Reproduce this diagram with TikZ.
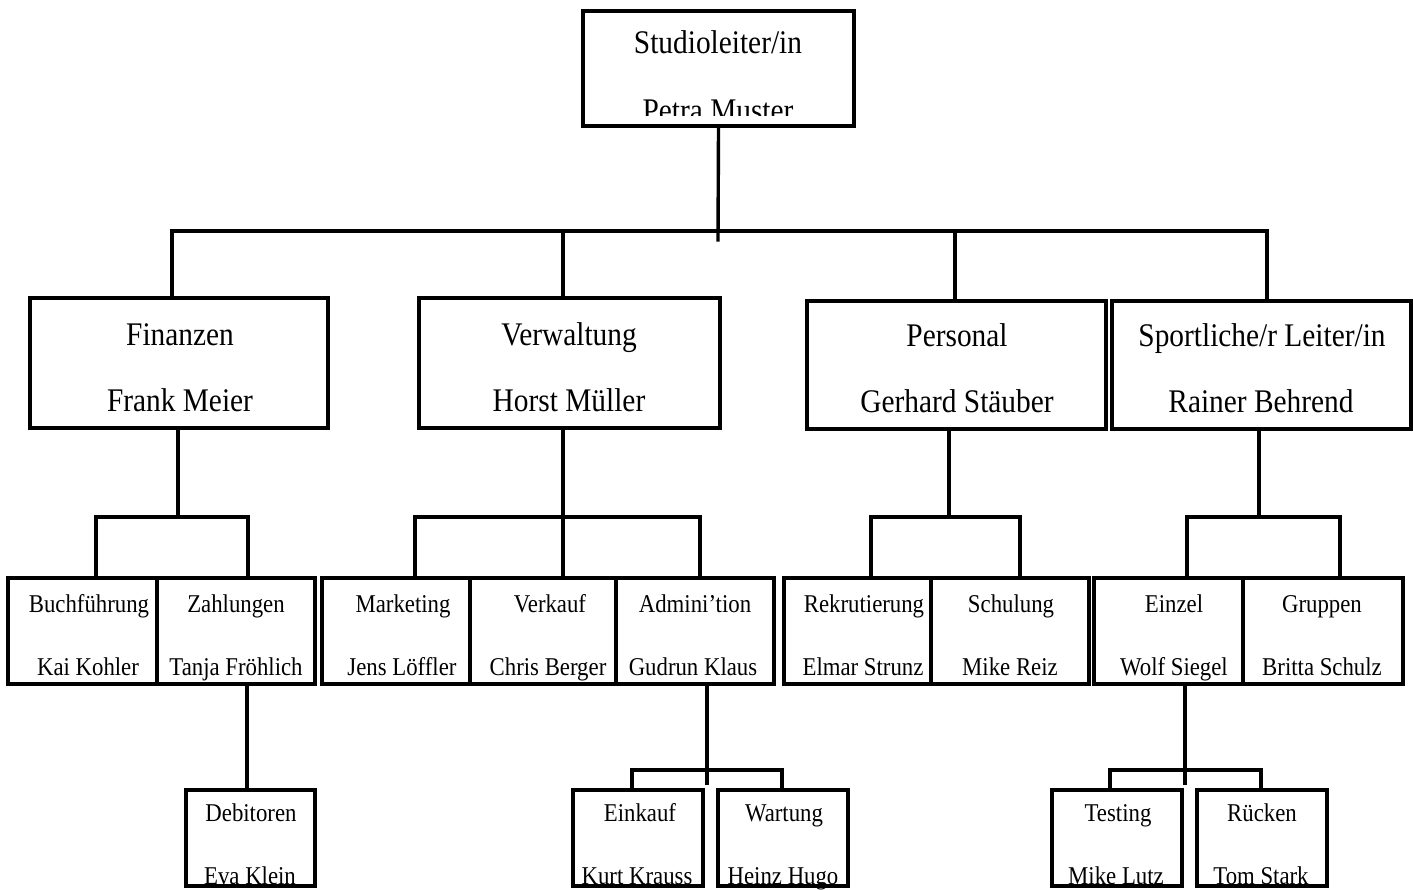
\documentclass[tikz,border=0pt]{standalone}
\usepackage{fontspec}
\setmainfont[FakeStretch=0.89]{Liberation Serif}
\usepackage{tikz}
\usetikzlibrary{fit}
\tikzstyle{unitbox} = [draw, line width=1.7pt, inner sep=0pt]
\tikzstyle{bigbox} = [unitbox, line width=2pt]
\tikzstyle{link} = [line width=1.7pt, line cap=rect]
\tikzstyle{bigtext} = [anchor=base, inner sep=0pt, font=\fontsize{16.5}{18}\selectfont]
\tikzstyle{smalltext} = [anchor=base, inner sep=0pt, font=\fontsize{12.8}{14}\selectfont]

\begin{document}
\begin{tikzpicture}[x=0.5pt, y=-0.5pt]
\useasboundingbox (0,0) rectangle (1413,889);
\clip (0,0) rectangle (1413,889);

% head
\node[bigbox, fit={(583,11) (854,126)}] (head) {};
\node[bigtext] (headT) at (718,53) {Studioleiter/in};
\begin{scope}
\clip (583,11) rectangle (854,115);
\node[bigtext] (headN) at (718,121) {Petra Muster};
\end{scope}

% departments
\node[bigbox, fit={(30,298) (328,428)}] (fin) {};
\node[bigtext] (finT) at (180,345) {Finanzen};
\node[bigtext] (finN) at (180,411) {Frank Meier};
\node[bigbox, fit={(419,298) (720,428)}] (verw) {};
\node[bigtext] (verwT) at (569,345) {Verwaltung};
\node[bigtext] (verwN) at (569,411) {Horst Müller};
\node[bigbox, fit={(807,301) (1106,429)}] (pers) {};
\node[bigtext] (persT) at (957,346) {Personal};
\node[bigtext] (persN) at (957,412) {Gerhard Stäuber};
\node[bigbox, fit={(1112,301) (1411,429)}] (sport) {};
\node[bigtext] (sportT) at (1262,346) {Sportliche/r Leiter/in};
\node[bigtext] (sportN) at (1261,412) {Rainer Behrend};

% teams
\node[unitbox, fit={(8,578) (157,684)}] (buch) {};
\node[smalltext] (buchT) at (89,612) {Buchführung};
\node[smalltext] (buchN) at (88,675) {Kai Kohler};
\node[unitbox, fit={(157,578) (315,684)}] (zahl) {};
\node[smalltext] (zahlT) at (236,612) {Zahlungen};
\node[smalltext] (zahlN) at (236,675) {Tanja Fröhlich};
\node[unitbox, fit={(322,578) (470,684)}] (mark) {};
\node[smalltext] (markT) at (403,612) {Marketing};
\node[smalltext] (markN) at (402,675) {Jens Löffler};
\node[unitbox, fit={(470,578) (616,684)}] (verk) {};
\node[smalltext] (verkT) at (550,612) {Verkauf};
\node[smalltext] (verkN) at (548,675) {Chris Berger};
\node[unitbox, fit={(616,578) (774,684)}] (admin) {};
\node[smalltext] (adminT) at (695,612) {Admini’tion};
\node[smalltext] (adminN) at (693,675) {Gudrun Klaus};
\node[unitbox, fit={(784,578) (931,684)}] (rekr) {};
\node[smalltext] (rekrT) at (864,612) {Rekrutierung};
\node[smalltext] (rekrN) at (863,675) {Elmar Strunz};
\node[unitbox, fit={(931,578) (1089,684)}] (schul) {};
\node[smalltext] (schulT) at (1011,612) {Schulung};
\node[smalltext] (schulN) at (1010,675) {Mike Reiz};
\node[unitbox, fit={(1094,578) (1243,684)}] (einz) {};
\node[smalltext] (einzT) at (1174,612) {Einzel};
\node[smalltext] (einzN) at (1174,675) {Wolf Siegel};
\node[unitbox, fit={(1243,578) (1403,684)}] (grup) {};
\node[smalltext] (grupT) at (1322,612) {Gruppen};
\node[smalltext] (grupN) at (1322,675) {Britta Schulz};

% sub teams
\node[unitbox, fit={(186,790) (315,886)}] (debi) {};
\node[smalltext] (debiT) at (251,821) {Debitoren};
\node[smalltext] (debiN) at (250,884) {Eva Klein};
\node[unitbox, fit={(573,790) (703,886)}] (eink) {};
\node[smalltext] (einkT) at (640,821) {Einkauf};
\node[smalltext] (einkN) at (637,884) {Kurt Krauss};
\node[unitbox, fit={(718,790) (848,886)}] (wart) {};
\node[smalltext] (wartT) at (784,821) {Wartung};
\node[smalltext] (wartN) at (783,884) {Heinz Hugo};
\node[unitbox, fit={(1052,790) (1182,886)}] (test) {};
\node[smalltext] (testT) at (1118,821) {Testing};
\node[smalltext] (testN) at (1116,884) {Mike Lutz};
\node[unitbox, fit={(1197,790) (1327,886)}] (rueck) {};
\node[smalltext] (rueckT) at (1262,821) {Rücken};
\node[smalltext] (rueckN) at (1261,884) {Tom Stark};

% bus lines
\coordinate (headEnd) at (718,240);
\coordinate (busL) at (172,231);
\coordinate (busV) at (563,231);
\coordinate (busP) at (955,231);
\coordinate (busR) at (1267,231);
\draw[link] (head.south) -- (headEnd);
\draw[link] (busL) -- (busR);
\draw[link] (busL) -- (busL |- fin.north);
\draw[link] (busV) -- (busV |- verw.north);
\draw[link] (busP) -- (busP |- pers.north);
\draw[link] (busR) -- (busR |- sport.north);

\coordinate (finM) at (178,517);
\coordinate (finL) at (96,517);
\coordinate (finR) at (248,517);
\draw[link] (fin.south -| finM) -- (finM);
\draw[link] (finL) -- (finR);
\draw[link] (finL) -- (finL |- buch.north);
\draw[link] (finR) -- (finR |- zahl.north);

\coordinate (verwM) at (563,517);
\coordinate (verwL) at (415,517);
\coordinate (verwR) at (700,517);
\draw[link] (verw.south -| verwM) -- (verwM |- verk.north);
\draw[link] (verwL) -- (verwR);
\draw[link] (verwL) -- (verwL |- mark.north);
\draw[link] (verwR) -- (verwR |- admin.north);

\coordinate (persM) at (949,517);
\coordinate (persL) at (871,517);
\coordinate (persR) at (1020,517);
\draw[link] (pers.south -| persM) -- (persM);
\draw[link] (persL) -- (persR);
\draw[link] (persL) -- (persL |- rekr.north);
\draw[link] (persR) -- (persR |- schul.north);

\coordinate (sportM) at (1259,517);
\coordinate (sportL) at (1187,517);
\coordinate (sportR) at (1340,517);
\draw[link] (sport.south -| sportM) -- (sportM);
\draw[link] (sportL) -- (sportR);
\draw[link] (sportL) -- (sportL |- einz.north);
\draw[link] (sportR) -- (sportR |- grup.north);

\coordinate (zahlM) at (247,684);
\draw[link] (zahlM) -- (zahlM |- debi.north);

\coordinate (adminM) at (707,783);
\coordinate (adminL) at (632,770);
\coordinate (adminR) at (782,770);
\draw[link] (admin.south -| adminM) -- (adminM);
\draw[link] (adminL) -- (adminR);
\draw[link] (adminL) -- (adminL |- eink.north);
\draw[link] (adminR) -- (adminR |- wart.north);

\coordinate (einzM) at (1185,783);
\coordinate (einzL) at (1110,770);
\coordinate (einzR) at (1261,770);
\draw[link] (einz.south -| einzM) -- (einzM);
\draw[link] (einzL) -- (einzR);
\draw[link] (einzL) -- (einzL |- test.north);
\draw[link] (einzR) -- (einzR |- rueck.north);
\end{tikzpicture}
\end{document}
